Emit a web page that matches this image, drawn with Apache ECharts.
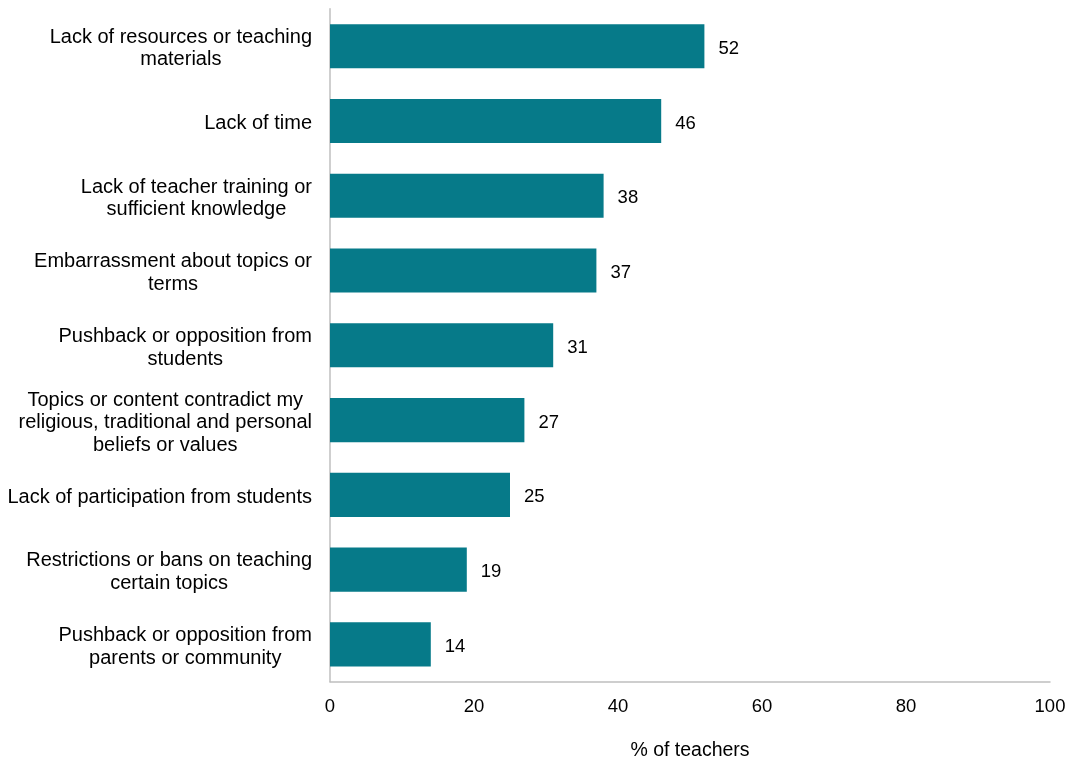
<!DOCTYPE html>
<html>
<head>
<meta charset="utf-8">
<script src="https://cdn.jsdelivr.net/npm/echarts@6/dist/echarts.min.js"></script>
<style>html,body{margin:0;padding:0;background:#fff}#c{width:1069px;height:761px}</style>
</head>
<body>
<div id="c"></div>
<script>
var categories = [
  "Lack of resources or teaching\nmaterials",
  "Lack of time",
  "Lack of teacher training or\nsufficient knowledge",
  "Embarrassment about topics or\nterms",
  "Pushback or opposition from\nstudents",
  "Topics or content contradict my\nreligious, traditional and personal\nbeliefs or values",
  "Lack of participation from students",
  "Restrictions or bans on teaching\ncertain topics",
  "Pushback or opposition from\nparents or community"
];
var values = [52, 46, 38, 37, 31, 27, 25, 19, 14];
var xTicks = [0, 20, 40, 60, 80, 100];
var xName = "% of teachers";

var chart = echarts.init(document.getElementById('c'), null, {renderer: 'canvas'});
var font = "'Liberation Sans', Arial, sans-serif";
chart.setOption({
  animation: false,
  grid: {left: 330, right: 19, top: 8.8, bottom: 79.2, containLabel: false, outerBoundsMode: 'none'},
  xAxis: {
    type: 'value', min: xTicks[0], max: xTicks[xTicks.length - 1], interval: 20,
    name: xName, nameLocation: 'middle', nameGap: 59,
    nameTextStyle: {fontFamily: font, fontSize: 19.5, color: '#000'},
    axisLine: {show: true, lineStyle: {color: '#BFBFBF', width: 1.5}},
    axisTick: {show: false},
    splitLine: {show: false},
    axisLabel: {fontFamily: font, fontSize: 18.5, color: '#000', margin: 16}
  },
  yAxis: {
    type: 'category', inverse: true, data: categories,
    axisLine: {show: true, lineStyle: {color: '#BFBFBF', width: 1.5}},
    axisTick: {show: false},
    axisLabel: {
      margin: 18, color: '#000', padding: [5, 0, 0, 0],
      formatter: function (v) {
        return v.split('\n').map(function (l) { return '{c|' + l + '}'; }).join('\n');
      },
      rich: {c: {align: 'center', fontFamily: font, fontSize: 20, lineHeight: 22.5, color: '#000'}}
    }
  },
  series: [{
    type: 'bar', data: values, barCategoryGap: '41%',
    itemStyle: {color: '#067A89'},
    label: {show: true, position: 'right', distance: 14, offset: [0, 2.5], fontFamily: font, fontSize: 18.5, color: '#000'}
  }]
});
</script>
</body>
</html>
